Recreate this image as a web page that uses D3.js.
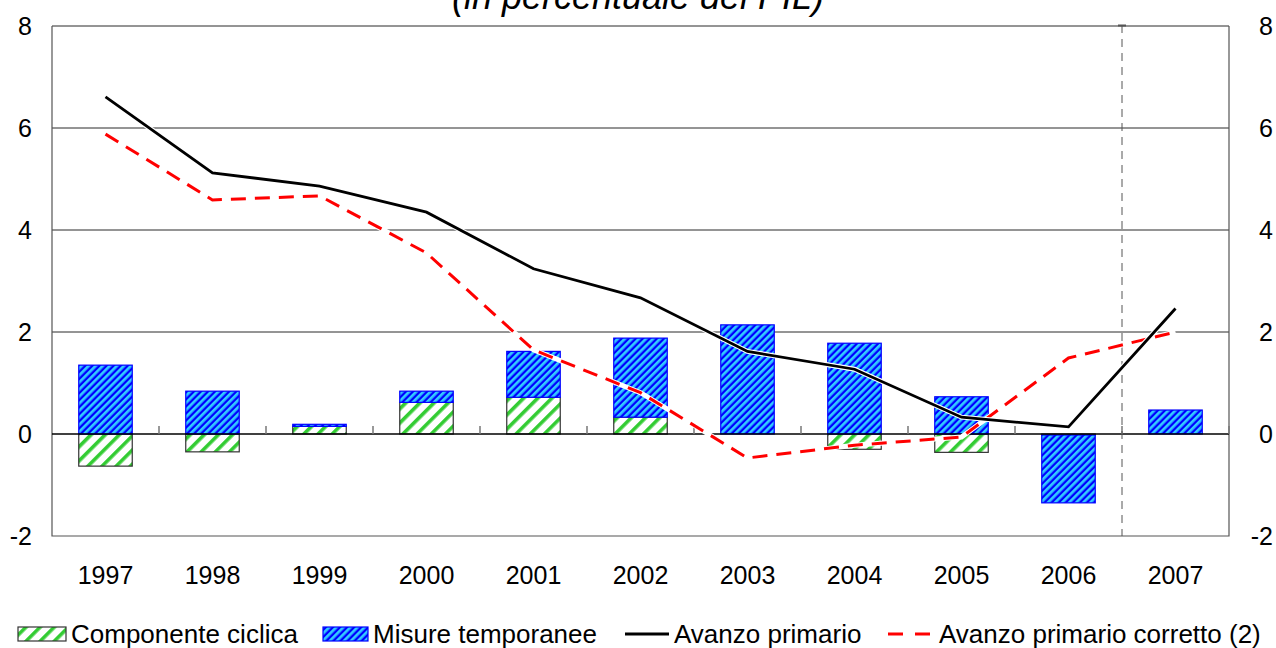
<!DOCTYPE html>
<html>
<head>
<meta charset="utf-8">
<script src="https://cdn.jsdelivr.net/npm/d3@7"></script>
<style>
  html, body { margin: 0; padding: 0; background: #fff; }
  svg { display: block; font-family: "Liberation Sans", Arial, sans-serif; }
</style>
</head>
<body>
<svg id="chart" width="1276" height="648"></svg>
<script>
// Anni e serie (in percentuale del PIL)
const years = ["1997","1998","1999","2000","2001","2002","2003","2004","2005","2006","2007"];
const componenteCiclica = [-0.63, -0.35, 0.15, 0.62, 0.72, 0.33, 0.00, -0.30, -0.36, -0.02, 0.00];
const misureTemporanee  = [ 1.35,  0.84, 0.04, 0.22, 0.90, 1.55, 2.14,  1.78,  0.73, -1.33, 0.47];
const avanzoPrimario    = [6.61, 5.12, 4.86, 4.35, 3.24, 2.67, 1.62, 1.27, 0.33, 0.14, 2.46];
const avanzoCorretto    = [5.88, 4.59, 4.67, 3.55, 1.65, 0.81, -0.47, -0.22, -0.06, 1.49, 2.00];
const yTicks = [-2, 0, 2, 4, 6, 8];
const forecastStart = "2007";

const svg = d3.select("#chart");
const plot = { left: 52, right: 1229, top: 26, bottom: 536 };

const x = d3.scaleBand().domain(years)
  .range([plot.left, plot.right]).paddingInner(0.5).paddingOuter(0.25);
const y = d3.scaleLinear().domain([-2, 8]).range([plot.bottom, plot.top]);
const step = x.step();
const fmt = d => String(d);

// Hatch patterns
const defs = svg.append("defs");
const pBlue = defs.append("pattern").attr("id", "hatchBlue")
  .attr("patternUnits", "userSpaceOnUse").attr("width", 5).attr("height", 5)
  .attr("patternTransform", "rotate(45)");
pBlue.append("rect").attr("width", 5).attr("height", 5).attr("fill", "#0000ff");
pBlue.append("rect").attr("width", 2.7).attr("height", 5).attr("fill", "#33ccff");

const pGreen = defs.append("pattern").attr("id", "hatchGreen")
  .attr("patternUnits", "userSpaceOnUse").attr("width", 10).attr("height", 10)
  .attr("patternTransform", "rotate(45)");
pGreen.append("rect").attr("width", 10).attr("height", 10).attr("fill", "#ffffff");
pGreen.append("rect").attr("width", 3.6).attr("height", 10).attr("fill", "#33cc33");

// Gridlines
svg.append("g").selectAll("line").data(yTicks.filter(d => d > 0)).join("line")
  .attr("x1", plot.left).attr("x2", plot.right)
  .attr("y1", d => y(d)).attr("y2", d => y(d))
  .attr("stroke", "#2a2a2a").attr("stroke-width", 1);

// Plot frame (left, right, bottom)
svg.append("path")
  .attr("d", `M${plot.left},${plot.top}V${plot.bottom}H${plot.right}V${plot.top}`)
  .attr("fill", "none").attr("stroke", "#555").attr("stroke-width", 1.2);

// Stacked bars (diverging around zero)
const table = years.map((yr, i) => ({ year: yr, ciclica: componenteCiclica[i], temporanee: misureTemporanee[i] }));
const stack = d3.stack().keys(["ciclica", "temporanee"]).offset(d3.stackOffsetDiverging)(table);
const fills = { ciclica: "url(#hatchGreen)", temporanee: "url(#hatchBlue)" };
const strokes = { ciclica: "#333", temporanee: "#0000ff" };

svg.append("g").selectAll("g").data(stack).join("g")
  .attr("fill", s => fills[s.key]).attr("stroke", s => strokes[s.key]).attr("stroke-width", 1.2)
  .selectAll("rect").data(s => s.filter(d => d[1] - d[0] !== 0)).join("rect")
  .attr("x", d => x(d.data.year))
  .attr("width", x.bandwidth())
  .attr("y", d => y(d[1]))
  .attr("height", d => y(d[0]) - y(d[1]));

// Zero line and category separators
svg.append("line").attr("x1", plot.left).attr("x2", plot.right)
  .attr("y1", y(0)).attr("y2", y(0)).attr("stroke", "#000").attr("stroke-width", 1.5);
svg.append("g").selectAll("line").data(years.slice(1).concat(["end"])).join("line")
  .attr("x1", d => d === "end" ? plot.right : x(d) - x.bandwidth() / 2)
  .attr("x2", d => d === "end" ? plot.right : x(d) - x.bandwidth() / 2)
  .attr("y1", y(0)).attr("y2", y(0) - 8)
  .attr("stroke", "#777").attr("stroke-width", 1.5);

// Vertical dashed separator before forecast year
const sepX = x(forecastStart) - (step - x.bandwidth()) / 2;
svg.append("line").attr("x1", sepX).attr("x2", sepX)
  .attr("y1", plot.top - 1).attr("y2", plot.bottom)
  .attr("stroke", "#555").attr("stroke-width", 1).attr("stroke-dasharray", "8,6");
svg.append("line").attr("x1", sepX - 4).attr("x2", sepX + 4)
  .attr("y1", plot.top - 0.5).attr("y2", plot.top - 0.5)
  .attr("stroke", "#555").attr("stroke-width", 2);

// Lines
const line = d3.line().x((d, i) => x(years[i]) + x.bandwidth() / 2).y(d => y(d));
svg.append("path").datum(avanzoCorretto).attr("d", line)
  .attr("fill", "none").attr("stroke", "#fff").attr("stroke-width", 5);
svg.append("path").datum(avanzoCorretto).attr("d", line)
  .attr("fill", "none").attr("stroke", "#ff0000").attr("stroke-width", 3)
  .attr("stroke-dasharray", "15,9");
svg.append("path").datum(avanzoPrimario).attr("d", line)
  .attr("fill", "none").attr("stroke", "#fff").attr("stroke-width", 5);
svg.append("path").datum(avanzoPrimario).attr("d", line)
  .attr("fill", "none").attr("stroke", "#000").attr("stroke-width", 2.8);

// Axes
const fs = 25;
const yLeft = svg.append("g").attr("transform", `translate(${plot.left},0)`)
  .call(d3.axisLeft(y).tickValues(yTicks).tickSize(0).tickPadding(20).tickFormat(fmt));
const yRight = svg.append("g").attr("transform", `translate(${plot.right},0)`)
  .call(d3.axisRight(y).tickValues(yTicks).tickSize(0).tickPadding(44).tickFormat(fmt));
yRight.selectAll("text").attr("text-anchor", "end");
const xAxis = svg.append("g").attr("transform", `translate(0,${plot.bottom})`)
  .call(d3.axisBottom(x).tickSize(0).tickPadding(30));
[yLeft, yRight, xAxis].forEach(g => {
  g.select(".domain").remove();
  g.selectAll("text").attr("font-size", fs).attr("fill", "#000")
    .attr("font-family", "Liberation Sans, Arial, sans-serif");
});

// Title (partially above the frame)
svg.append("text").attr("x", 638).attr("y", 9).attr("text-anchor", "middle")
  .attr("font-size", 36).attr("font-style", "italic").text("(in percentuale del PIL)");

// Legend
const legendY = 634;
const lg = svg.append("g").attr("font-size", 26);
const items = [
  { label: "Componente ciclica", kind: "rect", fill: "url(#hatchGreen)", stroke: "#333", x: 18, w: 48 },
  { label: "Misure temporanee", kind: "rect", fill: "url(#hatchBlue)", stroke: "#0000ff", x: 323, w: 45 },
  { label: "Avanzo primario", kind: "line", stroke: "#000", dash: null, x: 625, w: 44 },
  { label: "Avanzo primario corretto (2)", kind: "line", stroke: "#ff0000", dash: "15,12", x: 888, w: 46 }
];
items.forEach(it => {
  if (it.kind === "rect") {
    lg.append("rect").attr("x", it.x).attr("y", legendY - 7).attr("width", it.w).attr("height", 14)
      .attr("fill", it.fill).attr("stroke", it.stroke).attr("stroke-width", 1.2);
  } else {
    lg.append("line").attr("x1", it.x).attr("x2", it.x + it.w)
      .attr("y1", legendY).attr("y2", legendY)
      .attr("stroke", it.stroke).attr("stroke-width", 3)
      .attr("stroke-dasharray", it.dash);
  }
  lg.append("text").attr("x", it.x + it.w + 5).attr("y", legendY).attr("dy", "0.33em")
    .text(it.label);
});
</script>
</body>
</html>
